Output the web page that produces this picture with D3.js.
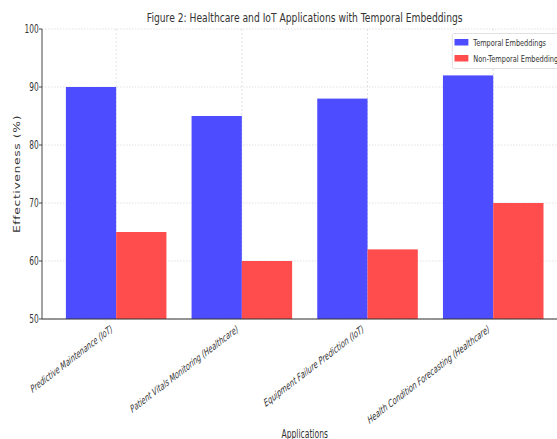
<!DOCTYPE html>
<html><head><meta charset="utf-8">
<script src="https://cdn.jsdelivr.net/npm/d3@7"></script>
<style>body{margin:0;background:#fff}svg{display:block}text{font-family:"DejaVu Sans",sans-serif}</style>
</head><body>
<svg id="c" width="557" height="439"></svg>
<script>
const categories = ["Predictive Maintenance (IoT)","Patient Vitals Monitoring (Healthcare)","Equipment Failure Prediction (IoT)","Health Condition Forecasting (Healthcare)"];
const temporal = [90, 85, 88, 92];
const nonTemporal = [65, 60, 62, 70];
const seriesNames = ["Temporal Embeddings","Non-Temporal Embeddings"];
const seriesColors = ["#4d4dff","#ff4d4d"];
const yTicks = [50,60,70,80,90,100];
const title = "Figure 2: Healthcare and IoT Applications with Temporal Embeddings";
const xTitle = "Applications";
const yTitle = "Effectiveness (%)";

const SX = 0.75;
const svg = d3.select("#c");
const g = svg.append("g").attr("transform", `scale(${SX},1)`);
const x = d3.scaleLinear().domain([-0.59, 3.59]).range([56, 756.5]);
const y = d3.scaleLinear().domain([50, 100]).range([319, 29]);
const bw = 0.4;
const ink = "#333";

// grid
g.append("g").selectAll("line").data(yTicks).join("line")
  .attr("x1", x(-0.59)).attr("x2", x(3.59)).attr("y1", d=>y(d)).attr("y2", d=>y(d))
  .attr("stroke","#d4d4d4").attr("stroke-width",0.8).attr("stroke-dasharray","2,2");
g.append("g").selectAll("line").data(categories).join("line")
  .attr("x1",(d,i)=>x(i)).attr("x2",(d,i)=>x(i)).attr("y1",y(100)).attr("y2",y(50))
  .attr("stroke","#d4d4d4").attr("stroke-width",0.8).attr("stroke-dasharray","2,2");

// bars
const series = [temporal, nonTemporal];
series.forEach((vals, s) => {
  g.append("g").selectAll("rect").data(vals).join("rect")
    .attr("x", (d,i)=> x(i + (s===0 ? -bw : 0)))
    .attr("width", x(bw) - x(0))
    .attr("y", d=>y(d)).attr("height", d=>y(50)-y(d))
    .attr("fill", seriesColors[s]);
});

// spines
g.append("line").attr("x1",x(-0.59)).attr("x2",x(-0.59)).attr("y1",y(100)).attr("y2",y(50)).attr("stroke",ink).attr("stroke-width",1.2);
g.append("line").attr("x1",x(-0.59)).attr("x2",x(3.59)).attr("y1",y(50)).attr("y2",y(50)).attr("stroke",ink).attr("stroke-width",1.2);

// y ticks
const yt = g.append("g").selectAll("g").data(yTicks).join("g").attr("transform", d=>`translate(0,${y(d)})`);
yt.append("line").attr("x1",x(-0.59)-4).attr("x2",x(-0.59)).attr("stroke",ink).attr("stroke-width",1);
yt.append("text").attr("x", 51.5).attr("dy","0.36em").attr("text-anchor","end")
  .attr("font-size",12).attr("fill",ink)
  .attr("textLength", d=>String(d).length*6.3).attr("lengthAdjust","spacingAndGlyphs")
  .text(d=>d);

// x labels
const xlLen = [124, 164, 152, 186];
g.append("g").selectAll("text").data(categories).join("text")
  .attr("transform",(d,i)=>`translate(${x(i)-4},331) rotate(-30)`)
  .attr("text-anchor","end").attr("font-size",10.5).attr("font-style","italic").attr("fill",ink)
  .attr("textLength",(d,i)=>xlLen[i]).attr("lengthAdjust","spacingAndGlyphs")
  .text(d=>d);

// title
g.append("text").attr("x",(x(-0.59)+x(3.59))/2).attr("y",22.5).attr("text-anchor","middle")
  .attr("font-size",12.5).attr("fill",ink).attr("textLength",421).attr("lengthAdjust","spacingAndGlyphs").text(title);
// x title
g.append("text").attr("x",(x(-0.59)+x(3.59))/2).attr("y",438).attr("text-anchor","middle")
  .attr("font-size",12).attr("fill",ink).attr("textLength",62).attr("lengthAdjust","spacingAndGlyphs").text(xTitle);
// y title
g.append("text").attr("transform",`translate(${17/SX + 4},174) rotate(-90)`).attr("text-anchor","middle")
  .attr("font-size",12.4).attr("fill",ink).attr("letter-spacing",0.6).text(yTitle);

// legend
const lg = g.append("g");
lg.append("rect").attr("x",603).attr("y",33.5).attr("width",150).attr("height",35).attr("rx",2)
  .attr("fill","#fff").attr("fill-opacity",0.85).attr("stroke","#ddd").attr("stroke-width",1);
const lgLen = [97, 118];
seriesNames.forEach((n,i)=>{
  lg.append("rect").attr("x",606).attr("y",39+i*16).attr("width",18.5).attr("height",6.5).attr("fill",seriesColors[i]);
  lg.append("text").attr("x",631).attr("y",46+i*16).attr("font-size",9.5).attr("fill",ink)
    .attr("textLength",lgLen[i]).attr("lengthAdjust","spacingAndGlyphs").text(n);
});
</script>
</body></html>
